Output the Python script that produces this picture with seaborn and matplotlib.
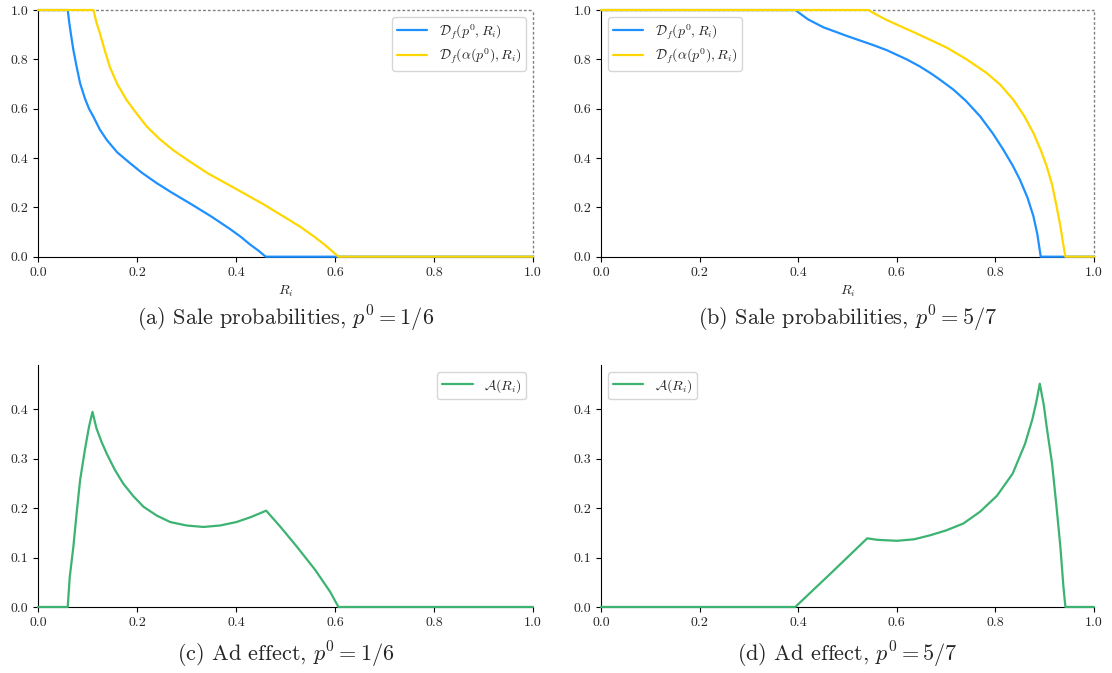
import numpy as np
import pandas as pd
import matplotlib
matplotlib.use('Agg')
import matplotlib.pyplot as plt
import seaborn as sns

## values

# (a) p0 = 1/6, sale probabilities
r_base_a = [0, 0.060, 0.063, 0.067, 0.0714, 0.078, 0.085, 0.095, 0.103, 0.112, 0.125, 0.139, 0.160,
            0.186, 0.210, 0.240, 0.270, 0.307, 0.350, 0.388, 0.410, 0.428, 0.445, 0.460, 1.0]
d_base_a = [1, 1, 0.95, 0.895, 0.838, 0.77, 0.703, 0.64, 0.60, 0.567, 0.515, 0.473, 0.423,
            0.379, 0.340, 0.298, 0.260, 0.216, 0.163, 0.112, 0.080, 0.050, 0.025, 0, 0]
r_alpha_a = [0, 0.112, 0.118, 0.125, 0.135, 0.145, 0.160, 0.179, 0.200, 0.220, 0.245, 0.273, 0.305,
             0.343, 0.380, 0.415, 0.455, 0.496, 0.530, 0.556, 0.580, 0.607, 1.0]
d_alpha_a = [1, 1, 0.95, 0.905, 0.835, 0.770, 0.70, 0.635, 0.578, 0.527, 0.478, 0.432, 0.388,
             0.338, 0.297, 0.258, 0.213, 0.163, 0.121, 0.084, 0.047, 0, 0]

# (b) p0 = 5/7, sale probabilities
r_base_b = [0, 0.394, 0.420, 0.451, 0.500, 0.552, 0.580, 0.620, 0.647, 0.670, 0.688, 0.715, 0.740,
            0.769, 0.795, 0.816, 0.835, 0.850, 0.865, 0.877, 0.885, 0.892, 1.0]
d_base_b = [1, 1, 0.962, 0.930, 0.894, 0.858, 0.837, 0.800, 0.771, 0.742, 0.717, 0.677, 0.632,
            0.569, 0.499, 0.434, 0.370, 0.311, 0.240, 0.165, 0.092, 0, 0]
r_alpha_b = [0, 0.542, 0.560, 0.580, 0.610, 0.640, 0.670, 0.701, 0.740, 0.782, 0.810, 0.836, 0.858,
             0.877, 0.892, 0.904, 0.915, 0.924, 0.932, 0.938, 0.942, 1.0]
d_alpha_b = [1, 1, 0.980, 0.959, 0.932, 0.905, 0.877, 0.848, 0.802, 0.745, 0.697, 0.637, 0.572,
             0.502, 0.432, 0.367, 0.292, 0.205, 0.122, 0.045, 0, 0]

# (c) ad effect, p0 = 1/6
r_ad_c = [0, 0.060, 0.064, 0.0714, 0.078, 0.085, 0.095, 0.103, 0.110, 0.118, 0.128, 0.139, 0.155,
          0.172, 0.192, 0.213, 0.240, 0.267, 0.300, 0.334, 0.368, 0.401, 0.430, 0.461, 0.490,
          0.523, 0.560, 0.590, 0.607, 1.0]
ad_c = [0, 0, 0.06, 0.122, 0.19, 0.257, 0.32, 0.365, 0.395, 0.362, 0.335, 0.310, 0.278,
        0.250, 0.225, 0.203, 0.185, 0.172, 0.165, 0.162, 0.165, 0.172, 0.182, 0.195, 0.162,
        0.122, 0.075, 0.031, 0, 0]

# (d) ad effect, p0 = 5/7
r_ad_d = [0, 0.394, 0.467, 0.540, 0.560, 0.600, 0.635, 0.667, 0.700, 0.735, 0.769, 0.803, 0.835,
          0.860, 0.875, 0.883, 0.890, 0.898, 0.904, 0.915, 0.924, 0.932, 0.938, 0.942, 1.0]
ad_d = [0, 0, 0.069, 0.139, 0.136, 0.134, 0.137, 0.145, 0.155, 0.169, 0.193, 0.225, 0.270,
        0.330, 0.380, 0.415, 0.452, 0.410, 0.365, 0.290, 0.203, 0.120, 0.041, 0, 0]

captions = [r'(a) Sale probabilities, $p^0 = 1/6$',
            r'(b) Sale probabilities, $p^0 = 5/7$',
            r'(c) Ad effect, $p^0 = 1/6$',
            r'(d) Ad effect, $p^0 = 5/7$']

lab_base = r'$\mathcal{D}_f(p^0, R_i)$'
lab_alpha = r'$\mathcal{D}_f(\alpha(p^0), R_i)$'
lab_ad = r'$\mathcal{A}(R_i)$'

blue = '#1E90FF'
gold = '#FFD700'
green = '#3CB371'

sns.set_style('ticks')
plt.rcParams['font.family'] = 'serif'
plt.rcParams['font.serif'] = ['cmr10', 'DejaVu Serif']
plt.rcParams['mathtext.fontset'] = 'cm'
plt.rcParams['axes.formatter.use_mathtext'] = True
plt.rcParams['axes.unicode_minus'] = False

fig = plt.figure(figsize=(11.12, 6.73), dpi=100)

ax_a = fig.add_axes([0.0342, 0.6186, 0.4451, 0.3665])
ax_b = fig.add_axes([0.5405, 0.6186, 0.4433, 0.3665])
ax_c = fig.add_axes([0.0342, 0.0981, 0.4451, 0.3596])
ax_d = fig.add_axes([0.5405, 0.0981, 0.4433, 0.3596])

leg_kw = dict(fontsize=10, labelspacing=0.3, borderpad=0.35, handlelength=2.2)

# top row: sale probabilities
for ax, rb, db, ra, da, loc in [(ax_a, r_base_a, d_base_a, r_alpha_a, d_alpha_a, 'upper right'),
                                (ax_b, r_base_b, d_base_b, r_alpha_b, d_alpha_b, 'upper left')]:
    sns.lineplot(x=rb, y=db, ax=ax, color=blue, lw=1.6, label=lab_base, clip_on=False, zorder=3)
    sns.lineplot(x=ra, y=da, ax=ax, color=gold, lw=1.6, label=lab_alpha, clip_on=False, zorder=3)
    ax.set_xlim(0, 1)
    ax.set_ylim(0, 1)
    ax.set_yticks(np.arange(0, 1.01, 0.2))
    for s in ['top', 'right']:
        ax.spines[s].set_linestyle((0, (1, 2.5)))
        ax.spines[s].set_color('0.5')
        ax.spines[s].set_linewidth(1.0)
    ax.set_xlabel(r'$R_i$', fontsize=10)
    ax.legend(loc=loc, **leg_kw)

# bottom row: ad effect
for ax, r, a, loc in [(ax_c, r_ad_c, ad_c, 'upper right'), (ax_d, r_ad_d, ad_d, 'upper left')]:
    sns.lineplot(x=r, y=a, ax=ax, color=green, lw=1.6, label=lab_ad, clip_on=False, zorder=3)
    ax.set_xlim(0, 1)
    ax.set_ylim(0, 0.49)
    ax.set_yticks([0, 0.1, 0.2, 0.3, 0.4])
    sns.despine(ax=ax)
    ax.set_xlabel('')
    ax.legend(loc=loc, **leg_kw)

for ax in [ax_a, ax_b, ax_c, ax_d]:
    ax.set_xticks(np.arange(0, 1.01, 0.2))
    ax.tick_params(labelsize=10, length=3.5, width=0.8, color='black')
    ax.spines['left'].set_color('black')
    ax.spines['bottom'].set_color('black')
    ax.yaxis.set_major_formatter(matplotlib.ticker.FormatStrFormatter('%.1f'))
    ax.xaxis.set_major_formatter(matplotlib.ticker.FormatStrFormatter('%.1f'))

# captions
for ax, cap, y in [(ax_a, captions[0], 0.526), (ax_b, captions[1], 0.526),
                   (ax_c, captions[2], 0.027), (ax_d, captions[3], 0.027)]:
    bb = ax.get_position()
    fig.text(bb.x0 + bb.width / 2, y, cap, ha='center', va='center', fontsize=16)

fig.savefig('out.png', dpi=100)
